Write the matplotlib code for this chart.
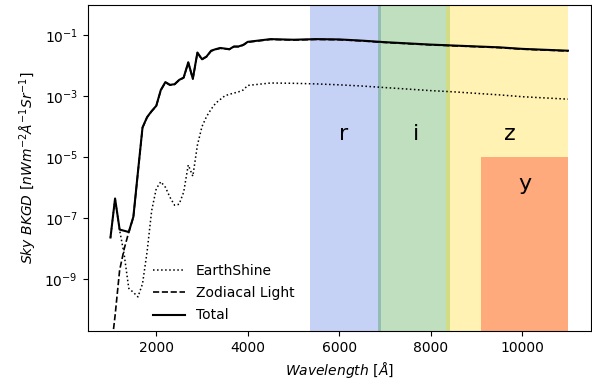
import numpy as np
import matplotlib.pyplot as plt

# wavelength grid [Angstrom]
wavelength = [1000, 1100, 1200, 1300, 1400, 1500, 1600, 1700, 1800, 1900,
              2000, 2100, 2200, 2300, 2400, 2500, 2600, 2700, 2800, 2900,
              3000, 3100, 3200, 3300, 3400, 3500, 3600, 3700, 3800, 3900,
              4000, 4500, 5000, 5500, 6000, 6500, 7000, 7500, 8000, 8500,
              9000, 9500, 10000, 10500, 11000]

# log10 of sky background
log_earthshine = [-7.63, -6.35, -7.39, -8.20, -9.30, -9.43, -9.58, -9.15, -8.10, -6.75,
                  -6.03, -5.80, -5.98, -6.31, -6.57, -6.54, -6.14, -5.25, -5.62, -4.60,
                  -3.99, -3.66, -3.42, -3.22, -3.10, -2.98, -2.93, -2.89, -2.85, -2.79,
                  -2.64, -2.56, -2.57, -2.59, -2.62, -2.66, -2.71, -2.76, -2.81, -2.85,
                  -2.90, -2.95, -3.01, -3.05, -3.09]

log_zodiacal = [-11.50, -10.20, -8.70, -8.00, -7.45, -6.97, -5.50, -4.03, -3.69, -3.49,
                -3.32, -2.80, -2.54, -2.63, -2.61, -2.47, -2.39, -1.89, -2.43, -1.57,
                -1.79, -1.70, -1.51, -1.46, -1.42, -1.44, -1.46, -1.37, -1.37, -1.32,
                -1.22, -1.13, -1.15, -1.13, -1.14, -1.18, -1.23, -1.27, -1.31, -1.34,
                -1.37, -1.40, -1.45, -1.48, -1.51]

log_total = [-7.63, -6.35, -7.37, -7.41, -7.45, -6.95, -5.48, -4.02, -3.68, -3.48,
             -3.31, -2.79, -2.53, -2.62, -2.60, -2.46, -2.38, -1.88, -2.42, -1.56,
             -1.78, -1.69, -1.50, -1.45, -1.41, -1.43, -1.45, -1.36, -1.36, -1.31,
             -1.21, -1.12, -1.14, -1.12, -1.13, -1.17, -1.22, -1.26, -1.30, -1.33,
             -1.36, -1.39, -1.44, -1.47, -1.50]

# filter bands
band_names = ['r', 'i', 'z']
band_edges = [(5360, 6920), (6840, 8430), (8340, 11000)]
band_colors = ['royalblue', 'green', 'gold']
band_alpha = [0.3, 0.25, 0.3]
band_text_x = [6100, 7670, 9720]
y_band = (9110, 11000)
y_band_top = 1e-5

wl = np.array(wavelength)

fig = plt.figure(figsize=(5.92, 3.84), dpi=100)
ax = fig.add_axes([0.148, 0.138, 0.850, 0.849])

ax.plot(wl, 10**np.array(log_earthshine), 'k:', lw=1.1, label='EarthShine')
ax.plot(wl, 10**np.array(log_zodiacal), 'k--', lw=1.2, label='Zodiacal Light')
ax.plot(wl, 10**np.array(log_total), 'k-', lw=1.5, label='Total')

for name, (a, b), c, al, tx in zip(band_names, band_edges, band_colors, band_alpha, band_text_x):
    ax.axvspan(a, b, color=c, alpha=al, lw=0)
    ax.text(tx, 6e-5, name, fontsize=16, ha='center', va='center')

ax.fill_between(list(y_band), 1e-20, y_band_top, color='tomato', alpha=0.5, lw=0)
ax.text(10050, 1.3e-6, 'y', fontsize=16, ha='center', va='center')

ax.set_yscale('log')
ax.set_xlim(500, 11500)
ax.set_ylim(2e-11, 1.0)
ax.set_xlabel(r'$Wavelength$ [$\AA$]')
ax.set_ylabel(r'$Sky\ BKGD\ [nW m^{-2} \AA^{-1} Sr^{-1}]$')
ax.legend(loc='lower left', bbox_to_anchor=(0.105, -0.012), frameon=False,
          handlelength=2.3, labelspacing=0.6)

fig.savefig('out.png', dpi=100)
